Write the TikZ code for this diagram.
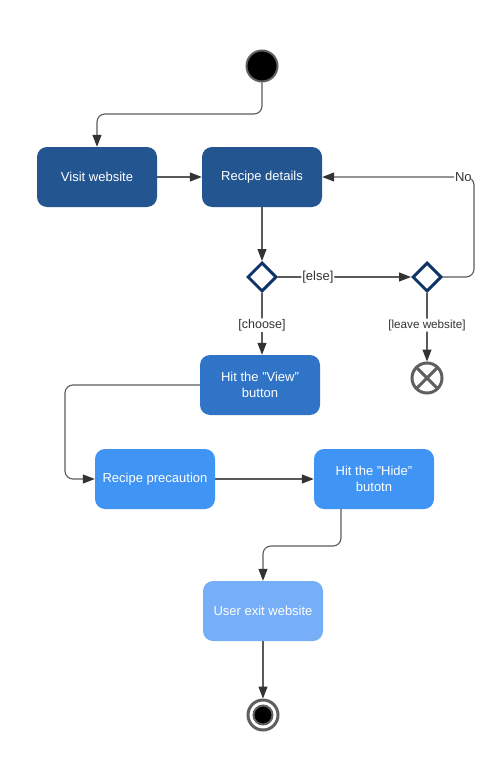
\documentclass[tikz,border=0pt]{standalone}
\usepackage{fontspec}
\setmainfont{Liberation Sans}
\usetikzlibrary{shapes.geometric,arrows.meta,calc}
\definecolor{cdark}{HTML}{235591}
\definecolor{cmid}{HTML}{2F74C6}
\definecolor{clight}{HTML}{4094F4}
\definecolor{cpale}{HTML}{76AEF8}
\definecolor{cnavy}{HTML}{0E3468}
\definecolor{cline}{HTML}{5A5A5A}
\definecolor{cring}{HTML}{5F5F5F}
\definecolor{ctext}{HTML}{333333}
\begin{document}
\begin{tikzpicture}[x=1pt,y=-1pt,
  actbox/.style={rectangle,rounded corners=10pt,minimum width=120pt,minimum height=60pt,
    inner sep=2pt,text=white,font=\fontsize{13}{15.5}\selectfont,align=center},
  dec/.style={diamond,draw=cnavy,line width=3pt,fill=white,minimum width=29pt,minimum height=29pt,inner sep=0pt},
  conn/.style={draw=cline,line width=1.1pt,rounded corners=8pt,-{Triangle[length=12pt,width=9pt,color=ctext]}},
  lbl/.style={fill=white,inner sep=1pt,text=ctext,font=\fontsize{12.5}{14}\selectfont},
  mlbl/.style={fill=white,inner sep=1pt,text=ctext,font=\fontsize{13}{14}\selectfont},
  slbl/.style={fill=white,inner sep=1pt,text=ctext,font=\fontsize{11.7}{14}\selectfont}]
\useasboundingbox (0,0) rectangle (502,781);
% nodes
\node[circle,fill=black,draw=cring,line width=2pt,minimum size=31pt,inner sep=0pt] (start) at (262,66) {};
\node[actbox,fill=cdark] (visit) at (97,177) {Visit website};
\node[actbox,fill=cdark] (details) at (262,177) {Recipe details};
\node[dec] (d1) at (262,277) {};
\node[dec] (d2) at (427,277) {};
\node[circle,draw=cring,line width=3pt,fill=white,minimum size=30pt,inner sep=0pt] (flowend) at (427,378) {};
\draw[cring,line width=3pt] ($(flowend)+(-10.5,-10.5)$) -- ($(flowend)+(10.5,10.5)$);
\draw[cring,line width=3pt] ($(flowend)+(-10.5,10.5)$) -- ($(flowend)+(10.5,-10.5)$);
\node[actbox,fill=cmid] (view) at (260,385) {Hit the "View"\\button};
\node[actbox,fill=clight] (prec) at (155,479) {Recipe precaution};
\node[actbox,fill=clight] (hide) at (374,479) {Hit the "Hide"\\butotn};
\node[actbox,fill=cpale] (exitw) at (263,611) {User exit website};
\node[circle,draw=cring,line width=3pt,fill=white,minimum size=30pt,inner sep=0pt] (fin) at (263,715) {};
\node[circle,fill=black,draw=cring,line width=2pt,minimum size=19pt,inner sep=0pt] (finin) at (263,715) {};
% coordinates
\coordinate (c1) at (97,114);
\coordinate (c2) at (474,177);
\coordinate (c3) at (65,385);
\coordinate (c4) at (341,509);
\coordinate (c5) at (263,546);
% connectors
\draw[conn] (start.south) |- (c1) -- (visit.north);
\draw[conn] (visit.east) -- (details.west);
\draw[conn] (details.south) -- (d1.north);
\draw[conn] (d1.east) -- node[mlbl,pos=0.3]{[else]} (d2.west);
\draw[conn] (d2.east) -| (c2) -- node[mlbl,pos=0.07]{No} (details.east);
\draw[conn] (d2.south) -- node[slbl,pos=0.47]{[leave website]} (flowend.north);
\draw[conn] (d1.south) -- node[lbl,pos=0.52]{[choose]} (d1.south |- view.north);
\draw[conn] (view.west) -- (c3) |- (prec.west);
\draw[conn] (prec.east) -- (hide.west);
\draw[conn] (c4) |- (c5) -- (exitw.north);
\draw[conn] (exitw.south) -- (fin.north);
\end{tikzpicture}
\end{document}
